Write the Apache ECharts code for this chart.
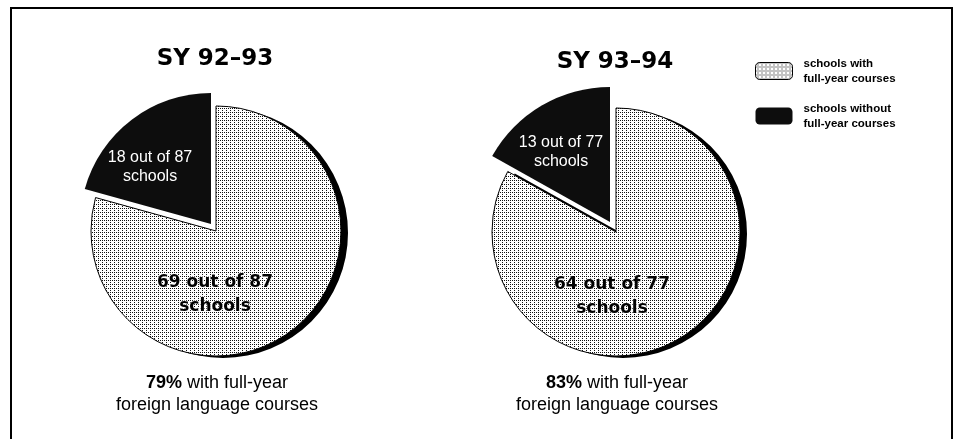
<!DOCTYPE html>
<html>
<head>
    <meta charset="utf-8">
    <title>Full-year foreign language courses</title>
    <script src="https://cdn.jsdelivr.net/npm/echarts@6/dist/echarts.min.js"></script>
    <style>
        html, body { margin: 0; padding: 0; background: #fff; }
        #main { width: 953px; height: 439px; }
    </style>
</head>
<body>
<div id="main"></div>
<script>
    // data
    var years = ['SY 92\u201393', 'SY 93\u201394'];
    var withCourses = [69, 64];
    var withoutCourses = [18, 13];
    var totals = [87, 77];
    var percents = [79, 83];
    var categories = ['schools with full-year courses', 'schools without full-year courses'];
    var legendText = ['schools with\nfull-year courses', 'schools without\nfull-year courses'];

    // layout of the two pies
    var centers = [[216, 231], [616, 232]];
    var darkCenters = [[211, 224], [610, 222]];   // pulled out toward upper left
    var lightRadius = [125, 124];
    var darkRadius = [131, 135];
    var lightLabelPos = [[215, 295], [612, 297]];
    var darkLabelPos = [[150, 167], [561, 152]];

    // stipple fill like the scan
    var tile = document.createElement('canvas');
    tile.width = 4;
    tile.height = 4;
    var tc = tile.getContext('2d');
    tc.fillStyle = '#fff';
    tc.fillRect(0, 0, 4, 4);
    tc.fillStyle = '#111';
    tc.fillRect(0, 0, 1, 1);
    tc.fillRect(2, 2, 1, 1);
    tc.fillRect(2, 0, 1, 1);
    var stipple = {image: tile, repeat: 'repeat'};
    var darkColor = '#0d0d0d';
    var hidden = {color: 'rgba(0,0,0,0)', borderWidth: 0, borderColor: 'rgba(0,0,0,0)'};

    var myChart = echarts.init(document.getElementById('main'), null, {renderer: 'canvas'});

    function placeAt(p) {
        return function () {
            return {x: p[0], y: p[1], align: 'center', verticalAlign: 'middle'};
        };
    }

    var series = [];
    var titles = [];
    years.forEach(function (year, i) {
        var c = centers[i];
        titles.push({
            text: year,
            left: c[0] - 1,
            top: 48 + i * 3,
            textAlign: 'center',
            padding: 0,
            textStyle: {fontFamily: 'DejaVu Sans', fontWeight: 'bold', fontSize: 23, color: '#000'}
        });
        titles.push({
            text: '{b|' + percents[i] + '%} with full-year\nforeign language courses',
            left: c[0] + 1,
            top: 372,
            textAlign: 'center',
            padding: 0,
            textStyle: {
                fontFamily: 'Liberation Sans', fontWeight: 'normal', fontSize: 18, lineHeight: 22, color: '#000',
                rich: {b: {fontFamily: 'Liberation Sans', fontWeight: 'bold', fontSize: 18, lineHeight: 22, color: '#000'}}
            }
        });
        // light slice (fill + drop shadow)
        series.push({
            type: 'pie',
            name: year,
            center: c,
            radius: lightRadius[i],
            startAngle: 90,
            clockwise: true,
            avoidLabelOverlap: false,
            silent: true,
            itemStyle: {borderWidth: 0},
            label: {position: 'inside', overflow: 'none'},
            labelLine: {show: false},
            labelLayout: placeAt(lightLabelPos[i]),
            data: [
                {
                    name: categories[0],
                    value: withCourses[i],
                    itemStyle: {
                        color: stipple, borderWidth: 0,
                        shadowColor: '#000', shadowBlur: 0, shadowOffsetX: 7, shadowOffsetY: 2
                    },
                    label: {
                        show: true,
                        overflow: 'none',
                        formatter: withCourses[i] + ' out of ' + totals[i] + '\nschools',
                        fontFamily: 'DejaVu Sans', fontWeight: 'bold', fontSize: 17, lineHeight: 24,
                        color: '#000', textBorderColor: '#fff', textBorderWidth: 1
                    }
                },
                {
                    name: categories[1],
                    value: withoutCourses[i],
                    itemStyle: hidden,
                    label: {show: false}
                }
            ]
        });
        // thin outline of the light slice
        series.push({
            type: 'pie',
            name: year,
            center: c,
            radius: lightRadius[i],
            startAngle: 90,
            clockwise: true,
            silent: true,
            label: {show: false},
            labelLine: {show: false},
            data: [
                {
                    name: categories[0],
                    value: withCourses[i],
                    itemStyle: {color: 'rgba(0,0,0,0)', borderColor: '#000', borderWidth: 1}
                },
                {
                    name: categories[1],
                    value: withoutCourses[i],
                    itemStyle: hidden
                }
            ]
        });
        // dark, pulled-out slice
        series.push({
            type: 'pie',
            name: year,
            center: darkCenters[i],
            radius: darkRadius[i],
            startAngle: 90,
            clockwise: true,
            avoidLabelOverlap: false,
            silent: true,
            itemStyle: {borderWidth: 0},
            label: {position: 'inside', overflow: 'none'},
            labelLine: {show: false},
            labelLayout: placeAt(darkLabelPos[i]),
            data: [
                {
                    name: categories[0],
                    value: withCourses[i],
                    itemStyle: hidden,
                    label: {show: false}
                },
                {
                    name: categories[1],
                    value: withoutCourses[i],
                    itemStyle: {color: darkColor, borderWidth: 0},
                    label: {
                        show: true,
                        overflow: 'none',
                        formatter: withoutCourses[i] + ' out of ' + totals[i] + '\nschools',
                        fontFamily: 'Liberation Sans', fontSize: 16, lineHeight: 19, color: '#fff'
                    }
                }
            ]
        });
    });

    var option = {
        animation: false,
        backgroundColor: '#fff',
        title: titles,
        legend: {
            orient: 'vertical',
            left: 755,
            top: 56,
            itemWidth: 37,
            itemHeight: 17,
            itemGap: 15,
            selectedMode: false,
            padding: 0,
            data: [
                {name: categories[0], itemStyle: {color: stipple, borderColor: '#000', borderWidth: 1}},
                {name: categories[1], itemStyle: {color: darkColor, borderWidth: 0}}
            ],
            formatter: function (name) {
                return legendText[categories.indexOf(name)];
            },
            textStyle: {
                fontFamily: 'Liberation Sans', fontWeight: 'bold', fontSize: 11.5, lineHeight: 15,
                color: '#000', padding: [0, 0, 0, 6]
            }
        },
        graphic: [{
            type: 'polyline',
            silent: true,
            shape: {points: [[11, 440], [11, 8], [952, 8], [952, 440]]},
            style: {stroke: '#000', lineWidth: 2, fill: null}
        }],
        series: series
    };
    myChart.setOption(option);
</script>
</body>
</html>
